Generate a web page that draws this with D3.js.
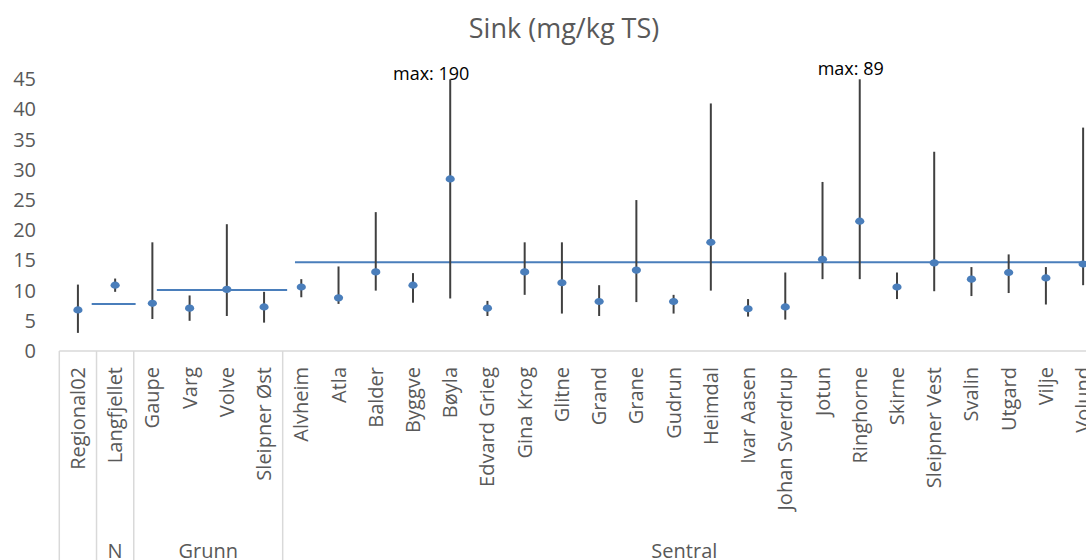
<!DOCTYPE html>
<html>
<head>
<meta charset="utf-8">
<script src="https://cdn.jsdelivr.net/npm/d3@7"></script>
<style>
	body { margin: 0; background: #fff; }
	svg { display: block; font-family: 'Open Sans', sans-serif; }
</style>
</head>
<body>
<svg id="chart" width="1086" height="560"></svg>
<script>
// one entry per field, grouped by area
const categories = ['Regional02', 'Langfjellet', 'Gaupe', 'Varg', 'Volve', 'Sleipner Øst',
	'Alvheim', 'Atla', 'Balder', 'Byggve', 'Bøyla', 'Edvard Grieg', 'Gina Krog', 'Glitne',
	'Grand', 'Grane', 'Gudrun', 'Heimdal', 'Ivar Aasen', 'Johan Sverdrup', 'Jotun',
	'Ringhorne', 'Skirne', 'Sleipner Vest', 'Svalin', 'Utgard', 'Vilje', 'Volund'];
const areas = ['', 'N', 'Grunn', 'Grunn', 'Grunn', 'Grunn',
	'Sentral', 'Sentral', 'Sentral', 'Sentral', 'Sentral', 'Sentral', 'Sentral', 'Sentral',
	'Sentral', 'Sentral', 'Sentral', 'Sentral', 'Sentral', 'Sentral', 'Sentral',
	'Sentral', 'Sentral', 'Sentral', 'Sentral', 'Sentral', 'Sentral', 'Sentral'];
const meanValues = [6.8, 10.9, 7.9, 7.1, 10.2, 7.3,
	10.6, 8.8, 13.1, 10.9, 28.5, 7.1, 13.1, 11.3,
	8.2, 13.4, 8.2, 18.0, 7.0, 7.3, 15.2,
	21.5, 10.6, 14.6, 11.9, 13.0, 12.1, 14.4];
const minValues = [3.0, 9.8, 5.3, 5.0, 5.8, 4.7,
	8.9, 7.8, 10.0, 8.0, 8.7, 5.8, 9.3, 6.2,
	5.8, 8.1, 6.2, 10.0, 5.7, 5.2, 11.9,
	11.9, 8.6, 9.9, 9.1, 9.6, 7.7, 10.9];
const maxValues = [11.0, 12.0, 18.0, 9.2, 21.0, 9.8,
	11.9, 14.0, 23.0, 12.9, 190, 8.3, 18.0, 18.0,
	10.9, 25.0, 9.3, 41.0, 8.6, 13.0, 28.0,
	89, 13.0, 33.0, 13.9, 16.0, 13.9, 37.0];

// area averages, extent given in category units
const areaMeanNames = ['N', 'Grunn', 'Sentral'];
const areaMeanValues = [7.8, 10.1, 14.7];
const areaMeanFrom = [0.87, 2.62, 6.33];
const areaMeanTo = [2.05, 6.12, 28];

const yTicks = [0, 5, 10, 15, 20, 25, 30, 35, 40, 45];
const yMax = 45;

const W = 1086, H = 560;
const textColor = '#595959';
const gridColor = '#d9d9d9';
const blue = '#4a7ebb';

const svg = d3.select('#chart');

const x = d3.scaleBand()
	.domain(categories)
	.range([59.3, 59.3 + categories.length * 37.23])
	.padding(0);
const xu = d3.scaleLinear()
	.domain([0, categories.length])
	.range(x.range());
const y = d3.scaleLinear()
	.domain([0, yMax])
	.range([351, 79.3]);

const cx = (c) => x(c) + x.bandwidth() / 2;

// title
svg.append('text')
	.attr('x', 564)
	.attr('y', 38)
	.attr('text-anchor', 'middle')
	.style('font-size', '27px')
	.style('fill', textColor)
	.text('Sink (mg/kg TS)');

// y axis labels, no line
const yAxis = svg.append('g')
	.attr('transform', 'translate(36,0)')
	.call(d3.axisLeft(y).tickValues(yTicks).tickSize(0).tickPadding(0));
yAxis.select('.domain').remove();
yAxis.selectAll('text')
	.style('font-family', "'Open Sans', sans-serif")
	.style('font-size', '20px')
	.style('fill', textColor);

// category axis line
svg.append('line')
	.attr('x1', x.range()[0])
	.attr('x2', x.range()[1])
	.attr('y1', y(0))
	.attr('y2', y(0))
	.style('stroke', gridColor)
	.style('stroke-width', 1.5);

// area boundaries
const areaList = [];
areas.forEach((a, i) => {
	const last = areaList[areaList.length - 1];
	if (last && last.name === a) {
		last.end = i + 1;
	} else {
		areaList.push({name: a, start: i, end: i + 1});
	}
});

const bounds = [0].concat(areaList.map((d) => d.end));
svg.append('g')
	.selectAll('line')
	.data(bounds)
	.enter().append('line')
	.attr('x1', (d) => xu(d))
	.attr('x2', (d) => xu(d))
	.attr('y1', y(0))
	.attr('y2', H)
	.style('stroke', gridColor)
	.style('stroke-width', 1.5);

// category labels
svg.append('g')
	.selectAll('text')
	.data(categories)
	.enter().append('text')
	.attr('transform', (d) => 'translate(' + cx(d) + ', 367) rotate(-90)')
	.attr('dy', '0.35em')
	.attr('text-anchor', 'end')
	.style('font-size', '20px')
	.style('fill', textColor)
	.text((d) => d);

// area labels, centred on the visible part
svg.append('g')
	.selectAll('text')
	.data(areaList)
	.enter().append('text')
	.attr('x', (d) => (xu(d.start) + Math.min(xu(d.end), W)) / 2)
	.attr('y', 558)
	.attr('text-anchor', 'middle')
	.style('font-size', '20px')
	.style('fill', textColor)
	.text((d) => d.name);

// area means
svg.append('g')
	.selectAll('line')
	.data(areaMeanNames)
	.enter().append('line')
	.attr('x1', (d, i) => xu(areaMeanFrom[i]))
	.attr('x2', (d, i) => xu(areaMeanTo[i]))
	.attr('y1', (d, i) => y(areaMeanValues[i]))
	.attr('y2', (d, i) => y(areaMeanValues[i]))
	.style('stroke', blue)
	.style('stroke-width', 2);

// min-max whiskers, cut at the top of the axis
svg.append('g')
	.selectAll('line')
	.data(categories)
	.enter().append('line')
	.attr('x1', cx)
	.attr('x2', cx)
	.attr('y1', (d, i) => y(minValues[i]))
	.attr('y2', (d, i) => y(Math.min(maxValues[i], yMax)))
	.style('stroke', '#404040')
	.style('stroke-width', 2);

// mean markers
svg.append('g')
	.selectAll('ellipse')
	.data(categories)
	.enter().append('ellipse')
	.attr('cx', cx)
	.attr('cy', (d, i) => y(meanValues[i]))
	.attr('rx', 4.6)
	.attr('ry', 3.6)
	.style('fill', blue);

// labels for the clipped maxima
const clipped = categories.filter((d, i) => maxValues[i] > yMax);
const labelShift = {'Bøyla': [-19, 1], 'Ringhorne': [-9, -4]};
svg.append('g')
	.selectAll('text')
	.data(clipped)
	.enter().append('text')
	.attr('x', (d) => cx(d) + labelShift[d][0])
	.attr('y', (d) => y(yMax) + labelShift[d][1])
	.attr('text-anchor', 'middle')
	.style('font-size', '18px')
	.style('fill', '#000')
	.text((d) => 'max: ' + maxValues[categories.indexOf(d)]);
</script>
</body>
</html>
